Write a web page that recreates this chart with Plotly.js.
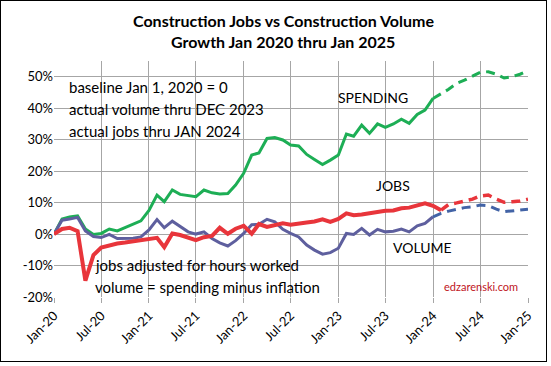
<!DOCTYPE html>
<html>
<head>
<meta charset="utf-8">
<script src="https://cdn.plot.ly/plotly-3.0.1.min.js"></script>
<style>
html,body{margin:0;padding:0;background:#fff;}
#frame{position:absolute;left:0;top:0;width:545px;height:360px;border:1px solid #000;}
#chart{position:absolute;left:0;top:0;width:551px;height:366px;}
</style>
</head>
<body>
<div id="frame"></div>
<div id="chart"></div>
<script>
const months = [
 "2020-01-01","2020-02-01","2020-03-01","2020-04-01","2020-05-01","2020-06-01","2020-07-01","2020-08-01","2020-09-01","2020-10-01","2020-11-01","2020-12-01",
 "2021-01-01","2021-02-01","2021-03-01","2021-04-01","2021-05-01","2021-06-01","2021-07-01","2021-08-01","2021-09-01","2021-10-01","2021-11-01","2021-12-01",
 "2022-01-01","2022-02-01","2022-03-01","2022-04-01","2022-05-01","2022-06-01","2022-07-01","2022-08-01","2022-09-01","2022-10-01","2022-11-01","2022-12-01",
 "2023-01-01","2023-02-01","2023-03-01","2023-04-01","2023-05-01","2023-06-01","2023-07-01","2023-08-01","2023-09-01","2023-10-01","2023-11-01","2023-12-01",
 "2024-01-01","2024-02-01","2024-03-01","2024-04-01","2024-05-01","2024-06-01","2024-07-01","2024-08-01","2024-09-01","2024-10-01","2024-11-01","2024-12-01",
 "2025-01-01"
];

// growth since Jan 1, 2020 (%)
const spending = [
 0, 4.8, 5.4, 5.8, 1.6, -0.1, 0.2, 1.6, 1.0, 2.1, 3.1, 4.2,
 7.5, 12.4, 10.3, 14.0, 12.6, 12.2, 11.9, 14.0, 13.1, 12.7, 12.9, 15.6,
 19.3, 25.1, 25.8, 30.4, 30.7, 29.9, 28.3, 28.0, 25.3, 23.7, 22.1, 23.5,
 25.1, 31.8, 31.1, 34.6, 32.0, 35.0, 33.9, 35.0, 36.5, 35.2, 38.0, 39.4,
 43.1, 44.6, 46.0, 47.9, 48.9, 50.2, 51.4, 51.6, 50.8, 49.6, 50.0, 50.8,
 51.9
];
const jobs = [
 0, 1.6, 2.0, 0.9, -14.8, -6.7, -4.3, -3.6, -3.0, -2.7, -2.3, -1.9,
 -1.5, -1.2, -4.2, 0.2, -0.3, -1.0, -1.9, -1.0, -0.6, 2.0, 0.1, 1.7,
 2.6, 0.1, 3.2, 2.3, 3.0, 3.4, 3.0, 3.5, 3.7, 4.0, 4.7, 3.9,
 4.8, 6.6, 6.0, 6.2, 6.6, 6.9, 7.4, 7.5, 8.2, 8.4, 9.0, 9.8,
 9.0, 7.6, 9.4, 9.9, 10.5, 11.1, 12.1, 12.4, 11.1, 10.1, 10.3, 10.5,
 11.1
];
const volume = [
 0, 4.4, 4.8, 5.3, 1.0, -0.8, -1.1, -0.1, -1.4, -1.4, -1.3, -0.9,
 1.3, 4.6, 2.0, 4.1, 2.3, 0.7, 0.0, 0.7, -1.4, -2.8, -3.8, -2.1,
 0.2, 3.0, 3.1, 4.7, 3.9, 1.5, 0.2, -0.9, -3.5, -5.1, -6.4, -5.9,
 -4.5, 0.2, -0.1, 1.8, -0.3, 1.5, 0.7, 0.9, 1.6, 0.7, 2.6, 3.4,
 5.5, 6.6, 7.3, 7.9, 8.4, 8.7, 9.2, 9.0, 7.9, 7.1, 7.4, 7.6,
 7.9
];
// last actual index (solid) for each series
const spendingActualEnd = 48;
const volumeActualEnd = 48;
const jobsActualEnd = 49;

const tickVals = ["2020-01-01","2020-07-01","2021-01-01","2021-07-01","2022-01-01","2022-07-01","2023-01-01","2023-07-01","2024-01-01","2024-07-01","2025-01-01"];
const tickText = ["Jan-20","Jul-20","Jan-21","Jul-21","Jan-22","Jul-22","Jan-23","Jul-23","Jan-24","Jul-24","Jan-25"];
const yTicks = [-20,-10,0,10,20,30,40,50];
const yTickText = ["-20%","-10%","0%","10%","20%","30%","40%","50%"];

const GREEN = "#1DAE55", RED = "#E8353B", BLUE = "#5E5F9E", BLUE_D = "#4263A6";
const FONT = "Lato, 'Open Sans', sans-serif";

function seg(arr, a, b){ return arr.slice(a, b + 1); }

const traces = [
 {x: seg(months,0,spendingActualEnd), y: seg(spending,0,spendingActualEnd), mode:"lines", line:{color:GREEN, width:3}},
 {x: seg(months,spendingActualEnd,60), y: seg(spending,spendingActualEnd,60), mode:"lines", line:{color:GREEN, width:3, dash:"9px,6px"}},
 {x: seg(months,0,volumeActualEnd), y: seg(volume,0,volumeActualEnd), mode:"lines", line:{color:BLUE, width:3}},
 {x: seg(months,volumeActualEnd,60), y: seg(volume,volumeActualEnd,60), mode:"lines", line:{color:BLUE_D, width:3, dash:"9px,6px"}},
 {x: seg(months,0,jobsActualEnd), y: seg(jobs,0,jobsActualEnd), mode:"lines", line:{color:RED, width:4}},
 {x: seg(months,jobsActualEnd,60), y: seg(jobs,jobsActualEnd,60), mode:"lines", line:{color:RED, width:3.5, dash:"9px,6px"}}
];

function note(text, x, y, opts){
  return Object.assign({text:text, xref:"paper", yref:"paper", x:x, y:y, xanchor:"left", yanchor:"middle",
    showarrow:false, font:{family:FONT, size:15, color:"#000"}}, opts||{});
}
const W = 474, H = 236; // plot area px
function px(xp){ return (xp - 54) / W; }
function py(yp){ return (297 - yp) / H; }

const TITLE_FONT = {family:FONT, size:16, color:"#000"};

const layout = {
  width:551, height:366,
  margin:{l:54, r:23, t:61, b:69},
  paper_bgcolor:"rgba(0,0,0,0)", plot_bgcolor:"#fff",
  showlegend:false,
  font:{family:FONT, size:13, color:"#000"},
  xaxis:{type:"date", range:["2020-01-01","2025-01-01"], tickvals:tickVals, ticktext:tickText,
    tickangle:-45, showgrid:true, gridcolor:"#A6A6A6", gridwidth:1, zeroline:false,
    showline:false, ticks:"outside", ticklen:5, tickcolor:"#A6A6A6",
    tickfont:{family:FONT, size:13, color:"#000"}},
  yaxis:{range:[-20,55], tickvals:yTicks, ticktext:yTickText, showgrid:true, gridcolor:"#A6A6A6",
    gridwidth:1, zeroline:false, showline:false, ticks:"", tickfont:{family:FONT, size:13, color:"#000"}},
  annotations:[
    note("<b>Construction Jobs vs Construction Volume</b>", px(283), py(20), {xanchor:"center", font:TITLE_FONT}),
    note("<b>Growth Jan 2020 thru Jan 2025</b>", px(283), py(41), {xanchor:"center", font:TITLE_FONT}),
    note("baseline Jan 1, 2020 = 0", px(67), py(87)),
    note("actual volume thru DEC 2023", px(67), py(109)),
    note("actual jobs thru JAN 2024", px(67), py(131)),
    note("SPENDING", px(336), py(97), {font:{family:FONT, size:14, color:"#000"}}),
    note("JOBS", px(374), py(185), {font:{family:FONT, size:14, color:"#000"}}),
    note("VOLUME", px(391), py(247), {font:{family:FONT, size:14, color:"#000"}}),
    note("jobs adjusted for hours worked", px(93), py(265)),
    note("volume = spending minus inflation", px(93), py(287)),
    note("edzarenski.com", px(442), py(286), {font:{family:FONT, size:11, color:"#C0141C"}})
  ]
};

Plotly.newPlot("chart", traces, layout, {displayModeBar:false, staticPlot:true});
</script>
</body>
</html>
